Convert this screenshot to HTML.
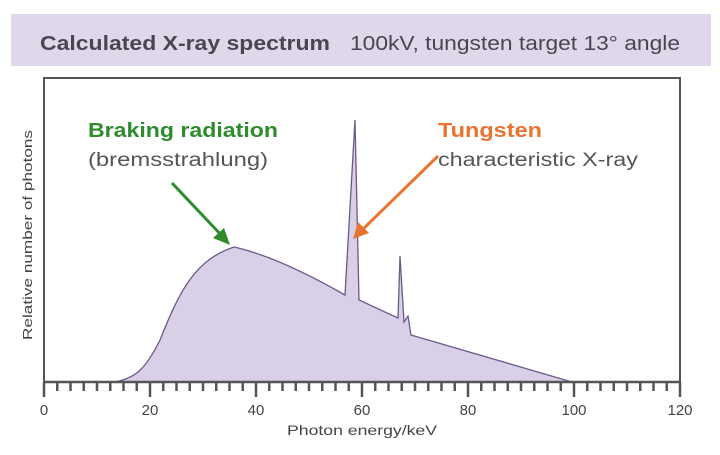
<!DOCTYPE html>
<html><head><style>
body{margin:0;background:#fff;}
svg text{font-family:"Liberation Sans",sans-serif;}
</style></head><body>
<svg width="720" height="450" viewBox="0 0 720 450" xmlns="http://www.w3.org/2000/svg">
<rect x="11" y="14" width="700" height="52" fill="#e0d8ea"/>
<text x="40" y="50" font-size="20" font-weight="bold" fill="#4a4550" textLength="290" lengthAdjust="spacingAndGlyphs">Calculated X-ray spectrum</text>
<text x="350" y="50" font-size="20" fill="#4a4550" textLength="330" lengthAdjust="spacingAndGlyphs">100kV, tungsten target 13° angle</text>
<rect x="44" y="78" width="636" height="304" fill="none" stroke="#555" stroke-width="2"/>
<path d="M115,382 C135,378 145,370 160,340 C180,290 195,260 234,247 C270,255 310,275 345,295 L355,120 L359,300 L398,318 L400,256 L404,322 L408,316 L411,335 L572,382 Z" fill="#d9cfe6" stroke="#6b5a8a" stroke-width="1.3"/>
<line x1="44" y1="382" x2="680" y2="382" stroke="#555" stroke-width="2.5"/>
<g stroke="#555" stroke-width="2.5" id="ticks"></g>
<g font-size="15" fill="#444" text-anchor="middle">
<text x="44" y="415">0</text><text x="150" y="415">20</text><text x="256" y="415">40</text><text x="362" y="415">60</text><text x="468" y="415">80</text><text x="574" y="415">100</text><text x="680" y="415">120</text>
<text x="362" y="435" font-size="14" textLength="150" lengthAdjust="spacingAndGlyphs">Photon energy/keV</text>
</g>
<text transform="translate(32,235) rotate(-90)" font-size="13" fill="#444" text-anchor="middle" textLength="210" lengthAdjust="spacingAndGlyphs">Relative number of photons</text>
<text x="88" y="137" font-size="20" font-weight="bold" fill="#2e8b2e" textLength="190" lengthAdjust="spacingAndGlyphs">Braking radiation</text>
<text x="88" y="166" font-size="19" fill="#555" textLength="180" lengthAdjust="spacingAndGlyphs">(bremsstrahlung)</text>
<text x="438" y="137" font-size="20" font-weight="bold" fill="#e8742f" textLength="104" lengthAdjust="spacingAndGlyphs">Tungsten</text>
<text x="438" y="166" font-size="19" fill="#555" textLength="200" lengthAdjust="spacingAndGlyphs">characteristic X-ray</text>
<line x1="172" y1="183" x2="224" y2="238" stroke="#2e8b2e" stroke-width="3"/>
<path d="M230,245 L213,238 L224,228 Z" fill="#2e8b2e"/>
<line x1="438" y1="156" x2="360" y2="232" stroke="#e8742f" stroke-width="3"/>
<path d="M353,239 L358,222 L369,233 Z" fill="#e8742f"/>
</svg>
<script>
var g=document.getElementById('ticks');
for(var i=0;i<=48;i++){var x=44+i*636/48;var l=document.createElementNS('http://www.w3.org/2000/svg','line');l.setAttribute('x1',x);l.setAttribute('x2',x);l.setAttribute('y1',382);l.setAttribute('y2',i%8==0?397:391);g.appendChild(l);}
</script>
</body></html>
